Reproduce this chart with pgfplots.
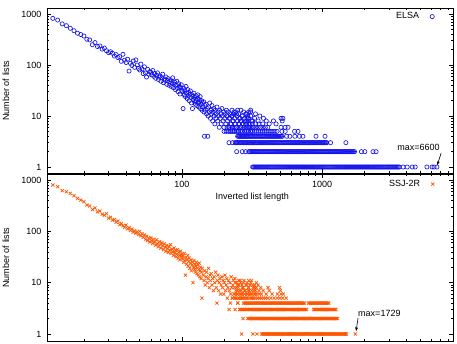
\documentclass[border=0pt]{standalone}
\usepackage{pgfplots}
\pgfplotsset{compat=1.18}
\usepackage{fontspec}
\setmainfont{Liberation Sans}
\usetikzlibrary{arrows.meta}
\definecolor{elsablue}{RGB}{20,20,235}
\definecolor{ssjorange}{RGB}{255,85,0}
\newcommand{\nf}{\fontsize{9}{10}\selectfont}
\pgfplotsset{
  elsastyle/.style={only marks, mark=o, mark size=2.1pt, color=elsablue, mark options={draw=elsablue, fill=none, line width=0.65pt}},
  ssjstyle/.style={only marks, mark=x, mark size=2.2pt, color=ssjorange, mark options={draw=ssjorange, line width=0.7pt}},
  every axis/.append style={
  scale only axis, width=405.5pt, xmin=11, xmax=8600,
  xtick={100,1000},
  minor xtick={20,30,40,50,60,70,80,90,200,300,400,500,600,700,800,900,2000,3000,4000,5000,6000,7000,8000},
  ytick={1,10,100,1000}, yticklabels={1,10,100,1000},
  tick align=inside, major tick length=4pt, minor tick length=2pt,
  axis line style={line width=0.8pt},
  every tick/.style={black, line width=0.5pt},
  tick label style={font=\nf},
  yticklabel style={xshift=-2.5pt},
  label style={font=\nf},
  ylabel={Number of lists},
  ylabel style={at={(axis description cs:-0.1023,0.5)}, anchor=center},
  legend style={at={(rel axis cs:1,1)}, anchor=north east, xshift=-15.5pt, yshift=-0.5pt, draw=none, fill=none, font=\nf, column sep=9pt},
  legend plot pos=right, legend cell align=right,
}}
\begin{document}
\begin{tikzpicture}
\path[use as bounding box] (0,0) rectangle (457pt,-344pt);
% ---------------- Top panel: ELSA ----------------
\begin{loglogaxis}[at={(47.5pt,-8pt)}, anchor=north west, height=165pt,
  ymin=0.763, ymax=1311,
  xticklabels={100,1000},
  xticklabel style={anchor=center, yshift=-11pt},
  xlabel={Inverted list length},
  xlabel style={at={(rel axis cs:0.5,0)}, anchor=center, yshift=-24pt, xshift=2pt},
]
\addplot[elsastyle] coordinates {(12,820)(13,760)(14,640)(15,590)(16,525)(17,470)(18,420)(19,395)(20,370)(21,320)(22,310)(23,250)(24,275)(25,230)(26,236)(27,205)(28,215)(29,190)(30,175)(31,182)(32,170)(33,150)(34,160)(35,140)(36,146)(37,118)(38,162)(39,124)(40,112)(41,130)(42,76)(43,108)(44,98)(45,120)(46,90)(47,126)(48,100)(49,86)(50,80)(51,104)(52,84)(53,68)(54,92)(55,70)(56,58)(57,82)(58,66)(59,74)};
\addlegendentry{ELSA}
\addplot[elsastyle, forget plot] coordinates {(60,72)(61,64)(62,78)(63,60)(64,68)(65,55)(66,63)(67,70)(68,52)(69,58)(70,61)(71,48)(72,56)(73,66)(74,45)(75,53)(76,50)(77,58)(78,42)(79,49)(80,54)(81,40)(82,47)(83,51)(84,38)(85,44)(86,56)(87,36)(88,42)(89,46)(90,33)(91,40)(92,48)(93,35)(94,30)(95,43)(96,38)(97,27)(98,36)(99,41)(100,32)};
\addplot[elsastyle, forget plot] coordinates {(101,30)(102,14)(103,35)(104,26)(105,31)(106,24)(107,38)(108,28)(109,22)(110,33)(111,25)(112,29)(113,20)(114,27)(115,31)(116,23)(117,18)(118,26)(119,14)(120,24)(121,21)(122,28)(123,19)(124,23)(125,17)(126,25)(127,20)(128,16)(129,22)(130,26)(131,18)(132,15)(133,21)(134,19)(135,24)(136,14)(137,17)(138,20)(139,13)(140,18)};
\addplot[elsastyle, forget plot] coordinates {(141,15)(143,19)(144,12)(145,4)(146,16)(147,13)(149,17)(150,11)(152,14)(153,4)(154,10)(155,15)(157,12)(158,18)(160,9)(161,13)(163,11)(164,16)(166,8)(167,12)(169,14)(170,10)(172,7)(173,13)(175,9)(176,11)(178,15)(180,8)(181,12)(183,10)(185,6)(186,13)(188,9)(190,11)(191,7)(193,14)(195,10)(197,8)(199,12)(200,6)(202,9)(204,11)(206,7)(208,13)(210,10)};
\addplot[elsastyle, forget plot] coordinates {(212,8)(214,12)(216,6)(217,3)(218,9)(220,11)(222,7)(224,5)(226,10)(228,13)(230,6)(232,8)(234,11)(236,5)(238,9)(240,7)(242,12)(244,6)(247,3)(248,10)(250,8)(252,5)(254,11)(256,7)(258,4)(260,9)(262,6)(264,13)(266,8)(268,5)(270,10)(272,4)(274,7)(276,12)(278,6)(280,9)(282,5)(284,8)(286,11)(288,4)(290,7)(292,6)(294,10)(296,5)(298,8)(300,9)(303,6)(306,7)(309,12)(312,5)(315,8)(318,6)};
% band y=1
\addplot[elsastyle, forget plot] coordinates {(320,1)(331,1)(342,1)(354,1)(366,1)(378,1)(391,1)(404,1)(418,1)(432,1)(447,1)(462,1)(478,1)(494,1)(511,1)(528,1)(546,1)(565,1)(584,1)(604,1)(625,1)(646,1)(668,1)(690,1)(714,1)(738,1)(763,1)(789,1)(816,1)(844,1)(873,1)(902,1)(933,1)(965,1)(998,1)(1032,1)(1067,1)(1103,1)(1140,1)(1179,1)(1219,1)(1261,1)(1304,1)(1348,1)(1394,1)(1441,1)(1490,1)(1541,1)(1593,1)(1648,1)(1704,1)(1762,1)(1822,1)(1884,1)(1948,1)(2014,1)(2082,1)(2153,1)(2226,1)(2302,1)(2380,1)(2461,1)(2545,1)(2631,1)(2721,1)(2813,1)(2909,1)(3008,1)(3110,1)(3216,1)(3325,1)(3438,1)(3555,1)(3790,1)(4050,1)(4400,1)(4620,1)(5600,1)(6100,1)(6300,1)(6600,1)};
\addplot[elsastyle, forget plot] coordinates {(325,1)(336,1)(348,1)(360,1)(372,1)(384,1)(397,1)(411,1)(425,1)(439,1)(454,1)(470,1)(486,1)(502,1)(519,1)(537,1)(555,1)(574,1)(594,1)(614,1)(635,1)(657,1)(679,1)(702,1)(726,1)(750,1)(776,1)(802,1)(830,1)(858,1)(887,1)(917,1)(949,1)(981,1)(1015,1)(1049,1)(1085,1)(1121,1)(1159,1)(1199,1)(1240,1)(1282,1)(1326,1)(1371,1)(1417,1)(1465,1)(1515,1)(1567,1)(1620,1)(1676,1)(1733,1)(1792,1)(1853,1)(1916,1)(1981,1)(2048,1)(2117,1)(2189,1)(2264,1)(2341,1)(2420,1)(2503,1)(2588,1)(2676,1)(2767,1)(2861,1)(2958,1)(3059,1)(3163,1)(3270,1)(3381,1)(3496,1)};
% band y=2
\addplot[elsastyle, forget plot] coordinates {(246,2)(270,2)(285,2)(300,2)(310,2)(321,2)(332,2)(343,2)(355,2)(367,2)(379,2)(392,2)(405,2)(419,2)(433,2)(448,2)(463,2)(479,2)(495,2)(512,2)(529,2)(547,2)(566,2)(585,2)(605,2)(626,2)(647,2)(669,2)(692,2)(715,2)(740,2)(765,2)(791,2)(818,2)(845,2)(874,2)(904,2)(934,2)(966,2)(999,2)(1033,2)(1068,2)(1104,2)(1142,2)(1180,2)(1221,2)(1262,2)(1305,2)(1349,2)(1395,2)(1443,2)(1492,2)(1542,2)(1595,2)(1649,2)(1705,2)(1910,2)(2020,2)(2310,2)(2430,2)};
\addplot[elsastyle, forget plot] coordinates {(305,2)(315,2)(326,2)(337,2)(349,2)(361,2)(373,2)(385,2)(398,2)(412,2)(426,2)(440,2)(455,2)(471,2)(487,2)(503,2)(520,2)(538,2)(556,2)(575,2)(595,2)(615,2)(636,2)(658,2)(680,2)(703,2)(727,2)(752,2)(778,2)(804,2)(831,2)(859,2)(889,2)(919,2)(950,2)(982,2)(1016,2)(1050,2)(1086,2)(1123,2)(1161,2)(1200,2)(1241,2)(1283,2)(1327,2)(1372,2)(1419,2)(1467,2)(1517,2)(1568,2)(1622,2)(1677,2)};
% band y=3
\addplot[elsastyle, forget plot] coordinates {(230,3)(240,3)(248,3)(257,3)(265,3)(274,3)(284,3)(293,3)(303,3)(314,3)(324,3)(335,3)(347,3)(359,3)(371,3)(383,3)(396,3)(410,3)(424,3)(438,3)(453,3)(469,3)(485,3)(501,3)(518,3)(536,3)(554,3)(573,3)(592,3)(613,3)(633,3)(655,3)(677,3)(700,3)(724,3)(749,3)(774,3)(801,3)(828,3)(856,3)(885,3)(915,3)(946,3)(979,3)(1012,3)(1046,3)(1082,3)(1150,3)(1480,3)};
\addplot[elsastyle, forget plot] coordinates {(244,3)(252,3)(261,3)(269,3)(279,3)(288,3)(298,3)(308,3)(319,3)(329,3)(341,3)(353,3)(365,3)(377,3)(389,3)(403,3)(417,3)(431,3)(445,3)(461,3)(477,3)(493,3)(509,3)(527,3)(545,3)(563,3)(582,3)(602,3)(623,3)(644,3)(666,3)(688,3)(712,3)(736,3)(761,3)(787,3)(814,3)(842,3)(870,3)(900,3)(930,3)(962,3)(995,3)(1029,3)(1064,3)};
% bands y=4..13
\addplot[elsastyle, forget plot] coordinates {(250,4)(259,4)(267,4)(276,4)(286,4)(296,4)(306,4)(316,4)(327,4)(338,4)(349,4)(361,4)(374,4)(386,4)(399,4)(413,4)(427,4)(442,4)(457,4)(472,4)(488,4)(505,4)(522,4)(560,4)(590,4)(640,4)(690,4)(730,4)(906,4)(1050,4)(254,4)(263,4)(271,4)(281,4)(291,4)(301,4)(311,4)(321,4)(332,4)(343,4)(355,4)(367,4)(380,4)(392,4)(406,4)(420,4)(434,4)(449,4)(464,4)(480,4)(496,4)(513,4)};
\addplot[elsastyle, forget plot] coordinates {(200,5)(207,5)(214,5)(221,5)(229,5)(236,5)(244,5)(253,5)(261,5)(270,5)(280,5)(289,5)(299,5)(309,5)(320,5)(331,5)(342,5)(354,5)(366,5)(378,5)(391,5)(404,5)(418,5)(432,5)(447,5)(462,5)(478,5)(518,5)(546,5)(637,5)(674,5)};
\addplot[elsastyle, forget plot] coordinates {(210,6)(218,6)(227,6)(236,6)(246,6)(256,6)(266,6)(277,6)(288,6)(299,6)(311,6)(324,6)(337,6)(350,6)(364,6)(379,6)(394,6)(410,6)(510,6)(545,6)(572,6)};
\addplot[elsastyle, forget plot] coordinates {(225,7)(240,7)(255,7)(270,7)(285,7)(300,7)(318,7)(336,7)(355,7)(378,7)(420,7)(470,7)(232,8)(262,8)(290,8)(320,8)(350,8)(400,8)(450,8)(520,8)(220,9)(258,9)(292,9)(330,9)(382,9)(510,9)(526,9)(228,10)(270,10)(310,10)(360,10)(245,11)(290,11)(335,11)(236,12)(300,12)(250,13)(310,13)};
\draw[line width=0.6pt, -{Stealth[length=4pt, width=3pt]}] (axis cs:7080,1.88) -- (axis cs:6630,1.09);
\node[font=\nf, anchor=west, inner sep=0pt] at (axis cs:3433,2.47) {max=6600};
\end{loglogaxis}
% ---------------- Bottom panel: SSJ-2R ----------------
\begin{loglogaxis}[at={(47.5pt,-174pt)}, anchor=north west, height=167pt,
  ymin=0.73, ymax=1309,
  xticklabels={,},
  legend style={yshift=-1.5pt},
]
\addplot[ssjstyle] coordinates {(12,800)(13,742)(14,620)(15,592)(16,550)(17,494)(18,440)(19,405)(20,378)(21,326)(22,312)(23,265)(24,285)(25,240)(26,250)(27,215)(28,205)(29,222)(30,180)(31,188)(32,165)(33,170)(34,150)(35,158)(36,135)(37,142)(38,128)(39,120)(40,132)(41,112)(42,118)(43,104)(44,110)(45,96)(46,102)(47,92)(48,98)(49,86)(50,100)(51,82)(52,90)(53,76)(54,85)(55,70)(56,80)(57,66)(58,74)(59,62)};
\addlegendentry{SSJ-2R}
\addplot[ssjstyle, forget plot] coordinates {(60,75)(61,66)(62,58)(63,70)(64,62)(65,54)(66,68)(67,57)(68,50)(69,63)(70,55)(71,47)(72,60)(73,52)(74,44)(75,57)(76,49)(77,41)(78,53)(79,46)(80,39)(81,50)(82,43)(83,55)(84,37)(85,45)(86,40)(87,34)(88,47)(89,38)(90,42)(91,32)(92,36)(93,44)(94,30)(95,39)(96,34)(97,28)(98,41)(99,33)(100,36)};
\addplot[ssjstyle, forget plot] coordinates {(101,29)(102,33)(103,25)(104,37)(105,27)(106,14)(107,31)(108,23)(109,28)(110,34)(111,21)(112,26)(113,30)(114,19)(115,24)(116,28)(117,17)(118,22)(119,25)(120,10)(121,20)(122,27)(123,18)(124,23)(125,16)(126,21)(127,25)(128,15)(129,19)(130,22)(131,14)(132,18)(133,24)(134,13)(135,17)(136,20)(137,12)(138,16)(139,5)(140,19)};
\addplot[ssjstyle, forget plot] coordinates {(142,14)(144,11)(145,17)(147,9)(149,13)(150,16)(152,10)(154,12)(155,19)(157,8)(159,14)(160,11)(162,15)(164,9)(166,12)(168,7)(170,13)(172,10)(174,16)(176,8)(178,4)(179,11)(181,14)(183,7)(185,10)(187,12)(189,6)(191,9)(193,13)(195,8)(197,11)(199,6)(201,10)(203,14)(205,7)(207,9)(209,12)(211,5)(213,8)(215,11)(218,7)(220,10)(223,6)(225,13)(227,8)(229,5)(231,9)(233,11)(235,6)(237,8)(239,12)(241,5)(243,7)(245,10)(247,6)(249,9)(251,4)(253,8)(255,11)(257,5)(259,7)(262,10)(265,6)(268,9)(271,5)(274,8)(277,11)(280,6)(283,7)(286,9)(289,5)(292,10)(295,6)(298,8)(302,7)(306,9)(310,6)(314,11)(318,5)(322,8)(326,7)(330,9)(335,6)(340,8)};
% band y=1
\addplot[ssjstyle, forget plot] coordinates {(267,1)(321,1)(343,1)(371,1)(384,1)(397,1)(410,1)(424,1)(439,1)(454,1)(469,1)(485,1)(502,1)(519,1)(536,1)(555,1)(573,1)(593,1)(613,1)(634,1)(656,1)(678,1)(701,1)(725,1)(750,1)(775,1)(801,1)(829,1)(857,1)(886,1)(916,1)(947,1)(980,1)(1013,1)(1047,1)(1083,1)(1120,1)(1158,1)(1197,1)(1238,1)(1280,1)(1323,1)(1368,1)(1415,1)(1463,1)(1490,1)(1729,1)};
\addplot[ssjstyle, forget plot] coordinates {(377,1)(390,1)(403,1)(417,1)(431,1)(446,1)(461,1)(477,1)(493,1)(510,1)(527,1)(545,1)(564,1)(583,1)(603,1)(623,1)(645,1)(667,1)(689,1)(713,1)(737,1)(762,1)(788,1)(815,1)(843,1)(871,1)(901,1)(931,1)(963,1)(996,1)(1030,1)(1065,1)(1101,1)(1139,1)(1177,1)(1217,1)(1259,1)(1301,1)(1345,1)(1391,1)(1439,1)(1476,1)};
% band y=2
\addplot[ssjstyle, forget plot] coordinates {(273,2)(296,2)(306,2)(317,2)(327,2)(339,2)(350,2)(362,2)(374,2)(387,2)(400,2)(414,2)(428,2)(443,2)(458,2)(473,2)(489,2)(506,2)(523,2)(541,2)(560,2)(579,2)(598,2)(619,2)(640,2)(661,2)(684,2)(707,2)(731,2)(756,2)(782,2)(808,2)(836,2)(864,2)(893,2)(924,2)(955,2)(988,2)(1021,2)(1056,2)(1092,2)(1129,2)(1167,2)(1207,2)(1248,2)(1290,2)};
\addplot[ssjstyle, forget plot] coordinates {(301,2)(311,2)(322,2)(333,2)(344,2)(356,2)(368,2)(380,2)(393,2)(407,2)(421,2)(435,2)(450,2)(465,2)(481,2)(497,2)(514,2)(532,2)(550,2)(569,2)(588,2)(608,2)(629,2)(650,2)(672,2)(695,2)(719,2)(743,2)(769,2)(795,2)(822,2)(850,2)(878,2)(908,2)(939,2)(971,2)(1004,2)(1038,2)(1074,2)(1110,2)(1148,2)(1187,2)(1227,2)(1269,2)};
% band y=3
\addplot[ssjstyle, forget plot] coordinates {(217,3)(240,3)(258,3)(267,3)(276,3)(285,3)(295,3)(305,3)(315,3)(326,3)(337,3)(348,3)(360,3)(372,3)(385,3)(398,3)(412,3)(426,3)(440,3)(455,3)(471,3)(487,3)(503,3)(520,3)(538,3)(556,3)(575,3)(595,3)(615,3)(636,3)(657,3)(680,3)(703,3)(727,3)(751,3)(777,3)(870,3)(900,3)(930,3)(962,3)(995,3)(1029,3)(1064,3)(1100,3)(1137,3)(1176,3)(1216,3)(1257,3)};
\addplot[ssjstyle, forget plot] coordinates {(262,3)(271,3)(280,3)(290,3)(300,3)(310,3)(320,3)(331,3)(342,3)(354,3)(366,3)(378,3)(391,3)(405,3)(419,3)(433,3)(447,3)(463,3)(479,3)(495,3)(511,3)(529,3)(547,3)(565,3)(585,3)(605,3)(625,3)(646,3)(668,3)(691,3)(715,3)(739,3)(764,3)(885,3)(915,3)(946,3)(978,3)(1012,3)(1046,3)(1082,3)(1118,3)(1156,3)(1196,3)(1236,3)};
% band y=4
\addplot[ssjstyle, forget plot] coordinates {(222,4)(250,4)(275,4)(284,4)(294,4)(304,4)(314,4)(325,4)(336,4)(347,4)(359,4)(371,4)(384,4)(397,4)(410,4)(424,4)(439,4)(454,4)(469,4)(485,4)(502,4)(519,4)(536,4)(555,4)(573,4)(593,4)(613,4)(634,4)(656,4)(678,4)(701,4)(725,4)(750,4)(800,4)(827,4)(855,4)(884,4)(914,4)(945,4)(977,4)(1010,4)(1045,4)(1080,4)(1117,4)};
\addplot[ssjstyle, forget plot] coordinates {(279,4)(289,4)(299,4)(309,4)(319,4)(330,4)(341,4)(353,4)(365,4)(377,4)(390,4)(403,4)(417,4)(431,4)(446,4)(461,4)(477,4)(493,4)(510,4)(527,4)(545,4)(564,4)(583,4)(603,4)(623,4)(645,4)(667,4)(689,4)(713,4)(737,4)(813,4)(841,4)(869,4)(899,4)(929,4)(961,4)(993,4)(1027,4)(1062,4)(1098,4)};
% bands y=5..11
\addplot[ssjstyle, forget plot] coordinates {(230,5)(238,5)(246,5)(255,5)(264,5)(273,5)(282,5)(292,5)(302,5)(312,5)(323,5)(334,5)(345,5)(357,5)(369,5)(382,5)(395,5)(410,5)(430,5)(455,5)(480,5)(500,5)(525,5)(555,5)};
\addplot[ssjstyle, forget plot] coordinates {(240,6)(250,6)(260,6)(270,6)(281,6)(292,6)(304,6)(316,6)(329,6)(342,6)(356,6)(370,6)(400,6)(440,6)(480,6)(510,6)(530,6)};
\addplot[ssjstyle, forget plot] coordinates {(250,7)(265,7)(280,7)(298,7)(315,7)(335,7)(355,7)(380,7)(420,7)(505,7)(245,8)(270,8)(300,8)(330,8)(365,8)(412,8)(497,8)(255,9)(290,9)(320,9)(350,9)(240,10)(275,10)(310,10)(340,10)(260,11)(300,11)};
\draw[line width=0.6pt, -{Stealth[length=4pt, width=3pt]}] (axis cs:1807,2.04) -- (axis cs:1750,1.14);
\node[font=\nf, anchor=west, inner sep=0pt] at (axis cs:1807,2.55) {max=1729};
\end{loglogaxis}
\end{tikzpicture}
\end{document}
